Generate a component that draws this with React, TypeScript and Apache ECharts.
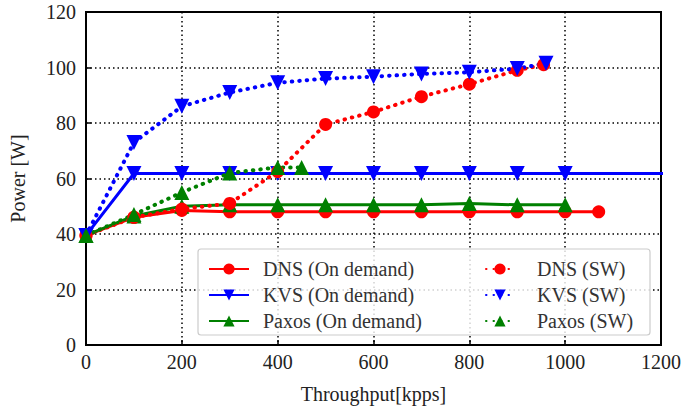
import React, { useEffect, useRef } from "react";
import * as echarts from "echarts";

// Throughput (kpps) sample points
const xOnDemand = [0, 100, 200, 300, 400, 500, 600, 700, 800, 900, 1000];
const xDnsOnDemand = [0, 100, 200, 300, 400, 500, 600, 700, 800, 900, 1000, 1070];
const xKvsOnDemand = [0, 100, 200, 300, 400, 500, 600, 700, 800, 900, 1000, 1300];
const xDnsSw = [0, 100, 200, 300, 400, 500, 600, 700, 800, 900, 955];
const xKvsSw = [0, 100, 200, 300, 400, 500, 600, 700, 800, 900, 960];
const xPaxosSw = [0, 100, 200, 300, 400, 450];

// Power (W)
const dnsOnDemand = [39.5, 46, 48.5, 48, 48, 48, 48, 48, 48, 48, 48, 48];
const kvsOnDemand = [39.5, 61.8, 61.8, 61.8, 61.8, 61.8, 61.8, 61.8, 61.8, 61.8, 61.8, 61.8];
const paxosOnDemand = [39.5, 46.5, 50, 50.5, 50.5, 50.5, 50.5, 50.5, 51, 50.5, 50.5];
const dnsSw = [39.5, 46, 49, 51, 62.5, 79.5, 84, 89.5, 94, 99, 101];
const kvsSw = [39.5, 73, 86, 91, 94.5, 96, 96.7, 97.7, 98.3, 99.6, 101.5];
const paxosSw = [39.5, 47, 55, 62, 64, 64];

const xTicks = [0, 200, 400, 600, 800, 1000, 1200];
const yTicks = [0, 20, 40, 60, 80, 100, 120];

const RED = "#ff0000";
const BLUE = "#0000ff";
const GREEN = "#008000";
const FONT = "Liberation Serif";

const zip = (xs: number[], ys: number[]) => xs.map((x, i) => [x, ys[i]]);

export default function App() {
  const ref = useRef<HTMLDivElement>(null);

  useEffect(() => {
    if (!ref.current) return;
    const chart = echarts.init(ref.current, undefined, { renderer: "svg" });

    const solid = (name: string, color: string, data: number[][], symbol: string, rotate = 0) => ({
      name,
      type: "line",
      data,
      symbol,
      symbolSize: symbol === "circle" ? 13 : 15,
      symbolRotate: rotate,
      showSymbol: true,
      clip: true,
      z: 2,
      itemStyle: { color, borderWidth: 0 },
      lineStyle: { color, width: 3, type: "solid" },
    });
    const dotted = (name: string, color: string, data: number[][], symbol: string, rotate = 0) => ({
      ...solid(name, color, data, symbol, rotate),
      z: 3,
      lineStyle: { color, width: 4, type: [0.5, 7], cap: "round" },
    });

    const tickLabel = (v: number) => String(v);
    const legendText = (pad: number) => ({
      fontFamily: FONT,
      fontSize: 20,
      color: "#333",
      lineHeight: 16,
      padding: [0, 0, 0, pad],
    });

    chart.setOption({
      animation: false,
      backgroundColor: "#ffffff",
      textStyle: { fontFamily: FONT },
      grid: {
        left: 82,
        right: 32,
        top: 12,
        bottom: 69,
        show: true,
        borderColor: "#000",
        borderWidth: 2,
        backgroundColor: "transparent",
      },
      xAxis: {
        type: "value",
        min: xTicks[0],
        max: xTicks[xTicks.length - 1],
        interval: 200,
        name: "Throughput[kpps]",
        nameLocation: "middle",
        nameGap: 39,
        nameTextStyle: { fontFamily: FONT, fontSize: 20, color: "#222" },
        axisLine: { show: true, lineStyle: { color: "#000", width: 2 } },
        axisTick: { show: true, inside: true, length: 5, lineStyle: { color: "#000", width: 1.5 } },
        axisLabel: { fontFamily: FONT, fontSize: 20, color: "#222", margin: 7, formatter: tickLabel },
        splitLine: { show: true, lineStyle: { color: "#000", width: 1.5, type: [1.5, 3] } },
      },
      yAxis: {
        type: "value",
        min: yTicks[0],
        max: yTicks[yTicks.length - 1],
        interval: 20,
        name: "Power [W]",
        nameLocation: "middle",
        nameGap: 58,
        nameTextStyle: { fontFamily: FONT, fontSize: 20, color: "#222" },
        axisLine: { show: true, lineStyle: { color: "#000", width: 2 } },
        axisTick: { show: true, inside: true, length: 5, lineStyle: { color: "#000", width: 1.5 } },
        axisLabel: { fontFamily: FONT, fontSize: 20, color: "#222", margin: 10, formatter: tickLabel },
        splitLine: { show: true, lineStyle: { color: "#000", width: 1.5, type: [1.5, 3] } },
      },
      graphic: [
        {
          type: "rect",
          z: 50,
          shape: { x: 198, y: 249, width: 452, height: 86, r: 3 },
          style: { fill: "rgba(255,255,255,0.82)", stroke: "#cccccc", lineWidth: 1.2 },
        },
      ],
      legend: [
        {
          z: 60,
          left: 203,
          top: 254,
          orient: "vertical",
          itemWidth: 40,
          itemHeight: 14,
          itemGap: 6,
          data: ["DNS (On demand)", "KVS (On demand)", "Paxos (On demand)"],
          textStyle: legendText(9),
        },
        {
          z: 60,
          left: 480,
          top: 254,
          orient: "vertical",
          itemWidth: 28,
          itemHeight: 14,
          itemGap: 6,
          data: ["DNS (SW)", "KVS (SW)", "Paxos (SW)"],
          textStyle: legendText(18),
        },
      ],
      series: [
        solid("DNS (On demand)", RED, zip(xDnsOnDemand, dnsOnDemand), "circle"),
        solid("KVS (On demand)", BLUE, zip(xKvsOnDemand, kvsOnDemand), "triangle", 180),
        solid("Paxos (On demand)", GREEN, zip(xOnDemand, paxosOnDemand), "triangle"),
        dotted("DNS (SW)", RED, zip(xDnsSw, dnsSw), "circle"),
        dotted("KVS (SW)", BLUE, zip(xKvsSw, kvsSw), "triangle", 180),
        dotted("Paxos (SW)", GREEN, zip(xPaxosSw, paxosSw), "triangle"),
      ],
    });

    return () => chart.dispose();
  }, []);

  return <div ref={ref} style={{ width: 693, height: 414, position: "absolute", left: 0, top: 0 }} />;
}
